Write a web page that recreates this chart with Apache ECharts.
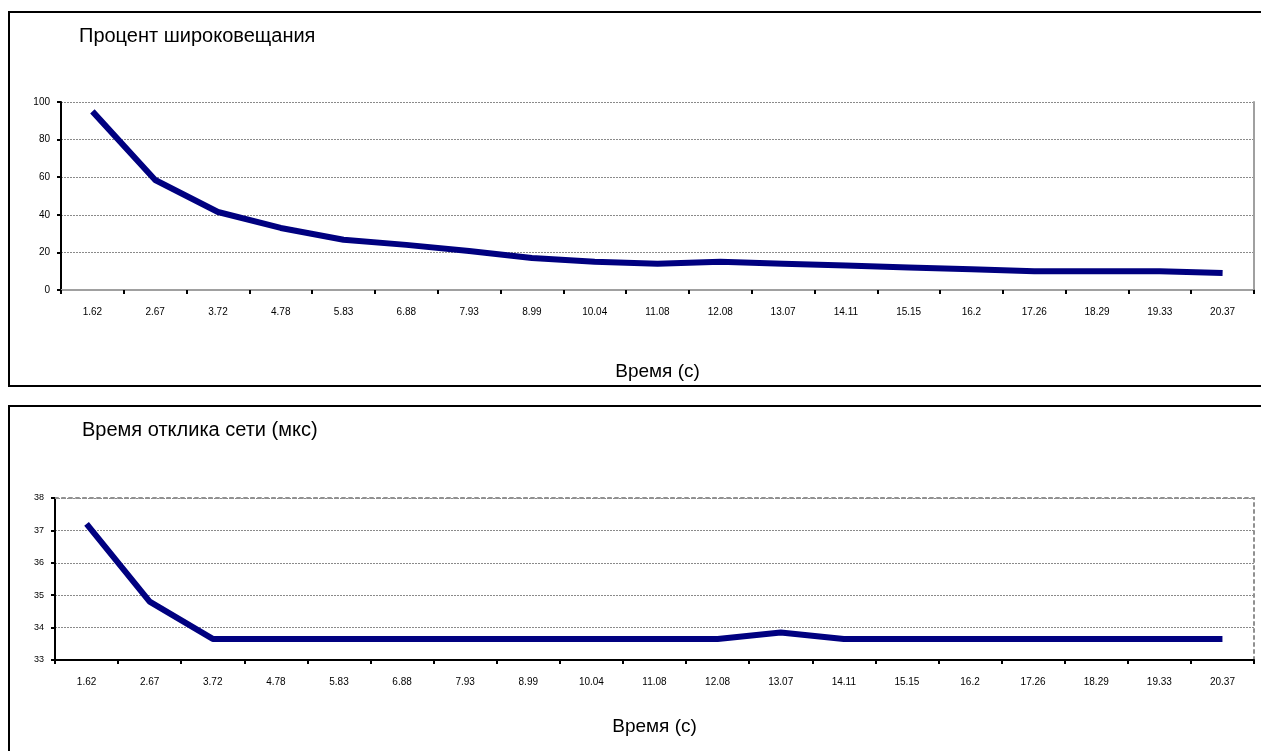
<!DOCTYPE html>
<html>
<head>
<meta charset="utf-8">
<script src="https://cdn.jsdelivr.net/npm/echarts@6/dist/echarts.min.js"></script>
<style>
html,body{margin:0;padding:0;background:#fff;}
#chart{width:1261px;height:751px;}
</style>
</head>
<body>
<div id="chart"></div>
<script>
const categories = ["1.62","2.67","3.72","4.78","5.83","6.88","7.93","8.99","10.04","11.08","12.08","13.07","14.11","15.15","16.2","17.26","18.29","19.33","20.37"];
const broadcastPercent = [95, 58.5, 41.5, 33, 26.7, 24, 20.8, 17, 15, 14, 15, 14, 13, 12, 11, 10, 10, 10, 9];
const responseTime = [37.2, 34.8, 33.65, 33.65, 33.65, 33.65, 33.65, 33.65, 33.65, 33.65, 33.65, 33.85, 33.65, 33.65, 33.65, 33.65, 33.65, 33.65, 33.65];
const title1 = "Процент широковещания";
const title2 = "Время отклика сети (мкс)";
const xName = "Время (с)";

const FONT = '"Liberation Sans", Arial, sans-serif';
const chart = echarts.init(document.getElementById('chart'), null, {renderer: 'canvas'});

function mainX(gi, gap, labelMargin) {
  return {
    type: 'category', gridIndex: gi, data: categories, boundaryGap: true,
    name: xName, nameLocation: 'middle', nameGap: gap,
    nameTextStyle: {fontFamily: FONT, fontSize: 19, color: '#000'},
    axisLine: {lineStyle: {color: '#000', width: 2}},
    axisTick: {show: true, length: 4, lineStyle: {color: '#000', width: 2}},
    axisLabel: {fontFamily: FONT, fontSize: 10, color: '#000', margin: labelMargin, interval: 0},
    splitLine: {show: false}
  };
}
function topX(gi, style) {
  return {
    type: 'category', gridIndex: gi, data: categories, position: 'top',
    axisLine: {show: true, lineStyle: style},
    axisTick: {show: false}, axisLabel: {show: false}, splitLine: {show: false}
  };
}
function mainY(gi, min, max, interval, fs) {
  return {
    type: 'value', gridIndex: gi, min: min, max: max, interval: interval,
    axisLine: {show: true, lineStyle: {color: '#000', width: 2}},
    axisTick: {show: true, length: 4, lineStyle: {color: '#000', width: 2}},
    axisLabel: {fontFamily: FONT, fontSize: fs, color: '#000', margin: 11},
    splitLine: {show: true, lineStyle: {color: '#8a8a8a', width: 1, type: [2, 1]}}
  };
}
function rightY(gi, min, max, style) {
  return {
    type: 'value', gridIndex: gi, min: min, max: max, position: 'right',
    axisLine: {show: true, lineStyle: style},
    axisTick: {show: false}, axisLabel: {show: false}, splitLine: {show: false}
  };
}

const solidGray = {color: '#a0a0a0', width: 2};
const dashGray = {color: '#909090', width: 2, type: [3, 4]};

chart.setOption({
  animation: false,
  backgroundColor: '#fff',
  graphic: [
    {type: 'rect', shape: {x: 9, y: 12, width: 1270, height: 374}, style: {fill: 'none', stroke: '#000', lineWidth: 2}, z: -10},
    {type: 'rect', shape: {x: 9, y: 406, width: 1270, height: 370}, style: {fill: 'none', stroke: '#000', lineWidth: 2}, z: -10}
  ],
  title: [
    {text: title1, left: 74, top: 21, textStyle: {fontFamily: FONT, fontSize: 20, fontWeight: 'normal', color: '#000'}},
    {text: title2, left: 77, top: 415, textStyle: {fontFamily: FONT, fontSize: 20, fontWeight: 'normal', color: '#000'}}
  ],
  grid: [
    {left: 61, right: 7, top: 102, height: 188, containLabel: false},
    {left: 55, right: 7, top: 498, height: 162, containLabel: false}
  ],
  xAxis: [mainX(0, 72, 17), mainX(1, 57, 17), topX(0, solidGray), topX(1, dashGray)],
  yAxis: [mainY(0, 0, 100, 20, 10), mainY(1, 33, 38, 1, 9), rightY(0, 0, 100, solidGray), rightY(1, 33, 38, dashGray)],
  series: [
    {type: 'line', xAxisIndex: 0, yAxisIndex: 0, data: broadcastPercent, symbol: 'none',
     lineStyle: {color: '#000080', width: 6}, z: 5},
    {type: 'line', xAxisIndex: 1, yAxisIndex: 1, data: responseTime, symbol: 'none',
     lineStyle: {color: '#000080', width: 6}, z: 5}
  ]
});
</script>
</body>
</html>
